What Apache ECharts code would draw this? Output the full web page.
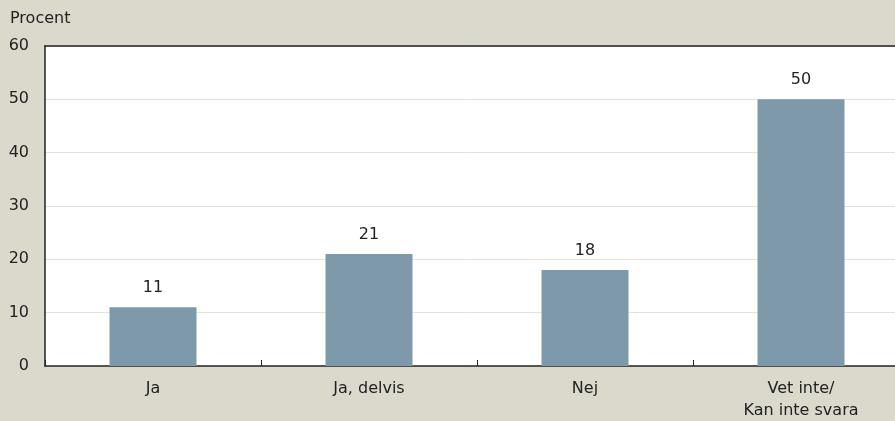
<!DOCTYPE html>
<html><head><meta charset="utf-8">
<script src="https://cdn.jsdelivr.net/npm/echarts@6/dist/echarts.min.js"></script>
<style>html,body{margin:0;padding:0;background:#dbd8cc;}#c{width:895px;height:421px;}</style>
</head><body><div id="c"></div>
<script>
const categories = ['Ja', 'Ja, delvis', 'Nej', 'Vet inte/\nKan inte svara'];
const values = [11, 21, 18, 50];
const yTicks = [0, 10, 20, 30, 40, 50, 60];
const yTitle = 'Procent';

const font = '"DejaVu Sans", sans-serif';
const chart = echarts.init(document.getElementById('c'));
chart.setOption({
  backgroundColor: '#dbd8cc',
  animation: false,
  graphic: [{type: 'text', left: 10, top: 11, style: {text: yTitle, font: '16px ' + font, fill: '#222'}}],
  grid: {left: 45, width: 864, top: 46, height: 320, containLabel: false, outerBoundsMode: 'none',
         show: true, backgroundColor: '#ffffff', borderWidth: 0},
  xAxis: [{
    type: 'category', data: categories,
    axisLine: {lineStyle: {color: '#222', width: 1.5}},
    axisTick: {show: true, inside: true, length: 6, lineStyle: {color: '#222'}},
    axisLabel: {color: '#222', fontSize: 16, fontFamily: font, margin: 12, lineHeight: 22}
  }, {
    type: 'category', data: categories, position: 'top',
    axisLine: {show: true, lineStyle: {color: '#222', width: 1.5}},
    axisTick: {show: false}, axisLabel: {show: false}
  }],
  yAxis: {
    type: 'value', min: yTicks[0], max: yTicks[yTicks.length - 1], interval: 10,
    axisLine: {show: true, lineStyle: {color: '#222', width: 1.5}},
    axisTick: {show: false},
    axisLabel: {color: '#222', fontSize: 16, fontFamily: font, margin: 16},
    splitLine: {lineStyle: {color: '#e4e1da', width: 1}}
  },
  series: [{
    type: 'bar', data: values, barWidth: 87,
    itemStyle: {color: '#7d99aa'},
    label: {show: true, position: 'top', distance: 11, color: '#222', fontSize: 16, fontFamily: font}
  }]
});
</script></body></html>
